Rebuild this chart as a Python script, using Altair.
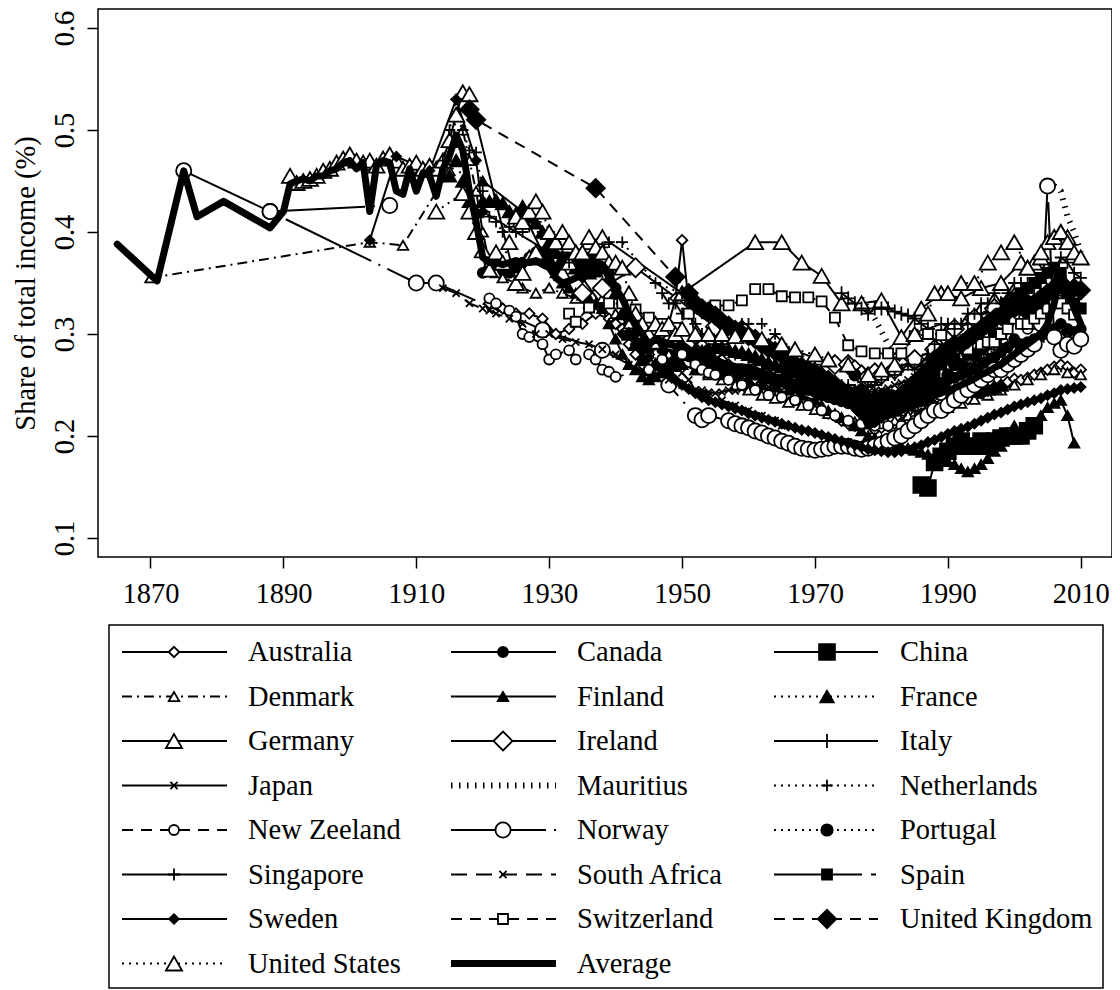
import altair as alt
import pandas as pd

# ---------------- data (year, share) ----------------
australia = [(1921,0.33),(1923,0.325),(1925,0.32),(1927,0.32),(1929,0.315),(1931,0.30),(1933,0.305),(1935,0.31),(1937,0.32),
 (1939,0.315),(1940,0.31),(1941,0.305),(1942,0.29),(1943,0.28),(1944,0.275),(1945,0.28),(1946,0.29),(1947,0.30),(1948,0.31),
 (1949,0.335),(1950,0.392),(1951,0.33),(1952,0.295),(1953,0.29),(1954,0.285),(1955,0.28),(1956,0.275),(1957,0.27),(1958,0.265),
 (1959,0.262),(1960,0.26),(1961,0.255),(1962,0.252),(1963,0.25),(1964,0.248),(1965,0.245),(1966,0.24),(1967,0.238),(1968,0.235),
 (1969,0.232),(1970,0.23),(1971,0.226),(1972,0.222),(1973,0.22),(1974,0.215),(1975,0.212),(1976,0.21),(1977,0.207),(1978,0.205),
 (1979,0.206),(1980,0.208),(1981,0.21),(1982,0.212),(1983,0.213),(1984,0.216),(1985,0.22),(1986,0.222),(1987,0.226),(1988,0.23),
 (1989,0.232),(1990,0.235),(1991,0.232),(1992,0.234),(1993,0.236),(1994,0.24),(1995,0.242),(1996,0.245),(1997,0.248),(1998,0.25),
 (1999,0.253),(2000,0.256),(2001,0.255),(2002,0.257),(2003,0.26),(2004,0.262),(2005,0.265),(2006,0.268),(2007,0.27),(2008,0.268),
 (2009,0.262),(2010,0.265)]
canada = [(1920,0.36),(1921,0.37),(1922,0.37),(1923,0.36),(1924,0.36),(1925,0.365),(1926,0.37),(1927,0.375),(1928,0.38),(1929,0.375),
 (1930,0.37),(1931,0.365),(1932,0.37),(1933,0.375),(1934,0.37),(1935,0.37),(1936,0.375),(1937,0.37),(1938,0.365),(1939,0.36),
 (1940,0.345),(1941,0.33),(1942,0.31),(1943,0.30),(1944,0.29),(1945,0.285),(1946,0.29),(1947,0.285),(1948,0.28),(1949,0.28),
 (1950,0.283),(1951,0.278),(1952,0.272),(1953,0.27),(1954,0.272),(1955,0.27),(1956,0.268),(1957,0.265),(1958,0.265),(1959,0.263),
 (1960,0.262),(1961,0.26),(1962,0.258),(1963,0.256),(1964,0.255),(1965,0.253),(1966,0.25),(1967,0.248),(1968,0.246),(1969,0.245),
 (1970,0.243),(1971,0.24),(1972,0.238),(1973,0.236),(1974,0.234),(1975,0.232),(1976,0.23),(1977,0.228),(1978,0.226),(1979,0.227),
 (1980,0.23),(1981,0.232),(1982,0.235),(1983,0.236),(1984,0.238),(1985,0.24),(1986,0.243),(1987,0.246),(1988,0.25),(1989,0.252),
 (1990,0.255),(1991,0.257),(1992,0.26),(1993,0.262),(1994,0.265),(1995,0.268),(1996,0.272),(1997,0.277),(1998,0.282),(1999,0.287),
 (2000,0.295),(2001,0.29),(2002,0.292),(2003,0.295),(2004,0.298),(2005,0.302),(2006,0.305),(2007,0.31),(2008,0.305),(2009,0.302),
 (2010,0.305)]
china = [(1986,0.152),(1987,0.149),(1988,0.174),(1989,0.18),(1990,0.185),(1991,0.19),(1992,0.195),(1993,0.19),(1994,0.19),
 (1995,0.195),(1996,0.19),(1997,0.195),(1998,0.198),(1999,0.2),(2000,0.2),(2001,0.2),(2002,0.205),(2003,0.21)]
denmark = [(1870,0.355),(1903,0.39),(1908,0.387),(1915,0.46),(1916,0.515),(1917,0.50),(1918,0.47),(1919,0.44),(1920,0.40),
 (1921,0.37),(1922,0.36),(1923,0.355),(1925,0.35),(1926,0.345),(1928,0.34),(1930,0.345),(1932,0.34),(1934,0.335),(1936,0.33),
 (1938,0.335),(1940,0.32),(1942,0.31),(1944,0.30),(1946,0.29),(1948,0.28),(1950,0.27),(1952,0.265),(1954,0.26),(1956,0.255),
 (1958,0.25),(1960,0.245),(1962,0.24),(1964,0.237),(1966,0.233),(1968,0.23),(1970,0.226),(1972,0.222),(1974,0.218),(1976,0.214),
 (1978,0.212),(1980,0.212),(1982,0.215),(1984,0.22),(1986,0.222),(1988,0.225),(1990,0.228),(1992,0.232),(1994,0.236),(1996,0.24),
 (1998,0.245),(2000,0.25),(2002,0.255),(2004,0.26),(2006,0.265),(2008,0.262),(2010,0.26)]
finland = [(1920,0.45),(1926,0.42),(1929,0.38),(1930,0.37),(1931,0.36),(1932,0.35),(1933,0.345),(1934,0.34),(1935,0.338),
 (1936,0.335),(1937,0.33),(1938,0.325),(1939,0.31),(1940,0.295),(1941,0.28),(1942,0.27),(1943,0.265),(1944,0.258),(1945,0.255),
 (1946,0.258),(1947,0.262),(1948,0.265),(1949,0.268),(1950,0.27),(1952,0.265),(1954,0.262),(1956,0.26),(1958,0.258),(1960,0.255),
 (1962,0.25),(1964,0.248),(1966,0.245),(1968,0.24),(1970,0.235),(1971,0.23),(1972,0.225),(1973,0.222),(1974,0.218),(1975,0.215),
 (1976,0.21),(1977,0.205),(1978,0.20),(1979,0.198),(1980,0.196),(1981,0.194),(1982,0.192),(1983,0.19),(1984,0.188),(1985,0.186),
 (1986,0.184),(1987,0.182),(1988,0.178),(1989,0.176),(1990,0.175),(1991,0.172),(1992,0.168),(1993,0.165),(1994,0.168),(1995,0.172),
 (1996,0.178),(1997,0.185),(1998,0.19),(1999,0.198),(2000,0.21),(2001,0.205),(2002,0.208),(2003,0.212),(2004,0.22),(2005,0.228),
 (2006,0.232),(2007,0.235),(2008,0.22),(2009,0.193)]
france = [(1915,0.455),(1916,0.47),(1917,0.45),(1918,0.43),(1919,0.42),(1920,0.43),(1921,0.43),(1922,0.431),(1923,0.428),(1924,0.42),
 (1925,0.418),(1926,0.425),(1927,0.415),(1928,0.409),(1929,0.40),(1930,0.39),(1931,0.38),(1932,0.375),(1933,0.37),(1934,0.365),
 (1935,0.368),(1936,0.36),(1937,0.362),(1938,0.365),(1939,0.355),(1940,0.34),(1941,0.32),(1942,0.30),(1943,0.29),(1944,0.275),
 (1945,0.265),(1946,0.27),(1947,0.275),(1948,0.27),(1949,0.275),(1950,0.28),(1951,0.282),(1952,0.285),(1953,0.283),(1954,0.285),
 (1955,0.287),(1956,0.287),(1957,0.285),(1958,0.283),(1959,0.282),(1960,0.28),(1961,0.278),(1962,0.275),(1963,0.272),(1964,0.27),
 (1965,0.268),(1966,0.265),(1967,0.263),(1968,0.26),(1969,0.258),(1970,0.256),(1971,0.254),(1972,0.252),(1973,0.25),(1974,0.248),
 (1975,0.246),(1976,0.244),(1977,0.242),(1978,0.24),(1979,0.24),(1980,0.24),(1981,0.238),(1982,0.235),(1983,0.232),(1984,0.232),
 (1985,0.235),(1986,0.238),(1987,0.24),(1988,0.243),(1989,0.245),(1990,0.246),(1991,0.245),(1992,0.244),(1993,0.244),(1994,0.245),
 (1995,0.245),(1996,0.246),(1997,0.248),(1998,0.25)]
germany = [(1891,0.455),(1892,0.448),(1893,0.45),(1894,0.452),(1895,0.455),(1896,0.46),(1897,0.462),(1898,0.468),(1899,0.472),
 (1900,0.476),(1901,0.47),(1902,0.468),(1903,0.47),(1904,0.465),(1905,0.472),(1906,0.476),(1907,0.47),(1908,0.462),(1909,0.465),
 (1910,0.468),(1911,0.462),(1912,0.465),(1913,0.462),(1914,0.47),(1915,0.49),(1916,0.515),(1917,0.537),(1918,0.535),(1925,0.35),
 (1926,0.36),(1927,0.375),(1928,0.38),(1932,0.36),(1933,0.37),(1934,0.38),(1936,0.39),(1938,0.395),(1950,0.34),(1961,0.39),
 (1965,0.39),(1968,0.37),(1971,0.357),(1974,0.33),(1977,0.33),(1980,0.333),(1983,0.297),(1986,0.325),(1989,0.34),(1992,0.335),
 (1995,0.345),(1998,0.35),(2001,0.37),(2002,0.365),(2003,0.37),(2004,0.375),(2005,0.39),(2006,0.395),(2007,0.40),(2008,0.395)]
ireland = [(1935,0.34),(1938,0.345),(1943,0.365),(1955,0.307),(1959,0.304),(1964,0.29),(1973,0.27),(1975,0.27),(1976,0.265),
 (1977,0.26),(1978,0.258),(1979,0.262),(1980,0.26),(1982,0.265),(1985,0.275),(1988,0.285),(1990,0.295),(1991,0.305),(1994,0.315),
 (1997,0.325),(2000,0.335),(2009,0.292)]
italy = [(1974,0.34),(1975,0.335),(1976,0.33),(1977,0.325),(1978,0.32),(1979,0.325),(1980,0.325),(1981,0.325),(1982,0.322),
 (1983,0.32),(1984,0.318),(1985,0.315),(1986,0.31),(1987,0.305),(1989,0.31),(1991,0.305),(1993,0.31),(1995,0.32),(1998,0.33),
 (2000,0.335),(2002,0.33),(2004,0.335),(2006,0.34),(2008,0.335),(2009,0.33)]
japan = [(1947,0.28),(1948,0.275),(1949,0.27),(1950,0.262),(1951,0.255),(1952,0.245),(1953,0.245),(1954,0.243),(1955,0.242),
 (1956,0.243),(1957,0.245),(1958,0.244),(1959,0.246),(1960,0.248),(1961,0.25),(1962,0.25),(1963,0.248),(1964,0.247),(1965,0.245),
 (1966,0.244),(1967,0.245),(1968,0.246),(1969,0.248),(1970,0.25),(1971,0.248),(1972,0.25),(1973,0.252),(1974,0.248),(1975,0.245),
 (1976,0.244),(1977,0.243),(1978,0.243),(1979,0.244),(1980,0.245),(1981,0.247),(1982,0.25),(1983,0.252),(1984,0.255),(1985,0.258),
 (1986,0.262),(1987,0.266),(1988,0.27),(1989,0.272),(1990,0.275),(1991,0.272),(1992,0.27),(1993,0.27),(1994,0.272),(1995,0.275),
 (1996,0.278),(1997,0.28),(1998,0.282),(1999,0.285),(2000,0.288),(2001,0.29),(2002,0.29),(2003,0.292),(2004,0.295),(2005,0.298),
 (2006,0.30),(2007,0.302),(2008,0.30),(2009,0.298),(2010,0.30)]
mauritius_a = [(1977,0.335),(1979,0.315),(1981,0.29),(1983,0.275),(1985,0.265)]
mauritius_b = [(2006,0.445),(2007,0.44),(2008,0.415),(2009,0.40),(2010,0.38)]
netherlands = [(1914,0.47),(1915,0.50),(1916,0.53),(1917,0.50),(1918,0.48),(1919,0.478),(1920,0.44),(1921,0.415),(1922,0.41),
 (1923,0.40),(1924,0.405),(1925,0.40),(1926,0.40),(1927,0.405),(1928,0.41),(1929,0.40),(1930,0.40),(1931,0.39),(1932,0.38),
 (1933,0.37),(1934,0.36),(1935,0.36),(1936,0.37),(1937,0.38),(1938,0.385),(1939,0.39),(1941,0.39),(1946,0.35),(1950,0.34),
 (1952,0.33),(1953,0.32),(1954,0.32),(1955,0.315),(1956,0.31),(1957,0.31),(1959,0.31),(1960,0.31),(1962,0.31),(1964,0.30),
 (1965,0.29),(1967,0.282),(1970,0.27),(1973,0.25),(1975,0.235),(1977,0.225),(1979,0.22),(1981,0.22),(1983,0.22),(1985,0.225),
 (1987,0.23),(1989,0.24),(1990,0.26),(1991,0.27),(1992,0.27),(1993,0.27),(1994,0.275),(1995,0.28),(1996,0.28),(1997,0.285),
 (1998,0.29),(1999,0.29)]
new_zeeland = [(1921,0.335),(1922,0.33),(1924,0.323),(1925,0.317),(1926,0.30),(1927,0.297),(1929,0.29),(1930,0.275),(1931,0.28),
 (1933,0.284),(1934,0.275),(1936,0.28),(1937,0.275),(1938,0.265),(1939,0.263),(1940,0.258),(1945,0.265),(1947,0.275),(1950,0.28),
 (1952,0.27),(1953,0.265),(1954,0.262),(1955,0.26),(1957,0.255),(1959,0.25),(1961,0.245),(1963,0.24),(1965,0.238),(1967,0.235),
 (1969,0.23),(1971,0.225),(1973,0.22),(1975,0.215),(1977,0.212),(1979,0.21),(1981,0.21),(1983,0.21),(1985,0.215),(1987,0.22),
 (1989,0.24),(1990,0.26),(1991,0.27),(1992,0.28),(1993,0.285),(1994,0.29),(1995,0.295),(1996,0.30),(1997,0.305),(1998,0.31),
 (1999,0.315),(2000,0.32),(2001,0.31),(2002,0.305),(2003,0.31),(2004,0.315),(2005,0.32)]
norway = [(1875,0.46),(1888,0.42),(1910,0.35),(1913,0.35),(1929,0.304),(1938,0.284),(1948,0.25),
 (1952,0.22),(1953,0.216),(1954,0.22),(1957,0.215),(1958,0.212),(1959,0.21),(1960,0.208),(1961,0.205),(1962,0.203),(1963,0.20),
 (1964,0.198),(1965,0.195),(1966,0.193),(1967,0.19),(1968,0.188),(1969,0.187),(1970,0.186),(1971,0.187),(1972,0.188),(1973,0.19),
 (1974,0.19),(1975,0.19),(1976,0.188),(1977,0.187),(1978,0.188),(1979,0.19),(1980,0.192),(1981,0.195),(1982,0.198),(1983,0.20),
 (1984,0.205),(1985,0.21),(1986,0.215),(1987,0.22),(1988,0.225),(1989,0.225),(1990,0.23),(1991,0.235),(1992,0.24),(1993,0.245),
 (1994,0.25),(1995,0.255),(1996,0.26),(1997,0.265),(1998,0.265),(1999,0.27),(2000,0.275),(2001,0.28),(2002,0.285),(2003,0.29),
 (2004,0.31),(2005,0.445),(2006,0.297),(2007,0.284),(2008,0.29),(2009,0.288),(2010,0.295)]
norway_b = [(1888,0.42),(1906,0.426)]
portugal = [(1976,0.26),(1977,0.245),(1978,0.235),(1979,0.23),(1980,0.23),(1981,0.225),(1982,0.23),(1985,0.24),(1989,0.25),
 (1990,0.26),(1991,0.27),(1992,0.27),(1993,0.28),(1994,0.28),(1995,0.285),(1996,0.29),(1997,0.30),(1998,0.30),(1999,0.31),
 (2000,0.32),(2001,0.33),(2002,0.32),(2003,0.32),(2004,0.325),(2005,0.33)]
singapore = [(1947,0.34),(1948,0.33),(1949,0.33),(1950,0.32),(1951,0.32),(1952,0.31),(1953,0.30),(1954,0.30),(1955,0.29),
 (1956,0.29),(1957,0.285),(1958,0.28),(1959,0.28),(1960,0.275),(1961,0.27),(1962,0.27),(1963,0.265),(1964,0.26),(1965,0.26),
 (1966,0.255),(1967,0.25),(1968,0.25),(1969,0.25),(1970,0.25),(1971,0.25),(1972,0.255),(1973,0.25),(1974,0.25),(1975,0.25),
 (1976,0.245),(1977,0.245),(1978,0.248),(1979,0.25),(1980,0.255),(1981,0.26),(1982,0.26),(1983,0.265),(1984,0.27),(1985,0.265),
 (1986,0.27),(1987,0.28),(1988,0.29),(1989,0.30),(1990,0.31),(1991,0.31),(1992,0.31),(1993,0.32),(1994,0.32),(1995,0.33),
 (1996,0.33),(1997,0.34),(1998,0.33),(1999,0.34),(2000,0.35),(2001,0.35),(2002,0.35),(2003,0.345),(2004,0.35),(2005,0.36),
 (2006,0.36),(2007,0.375),(2008,0.37),(2009,0.36),(2010,0.355)]
south_africa = [(1914,0.345),(1916,0.34),(1918,0.33),(1920,0.325),(1921,0.323),(1922,0.32),(1924,0.315),(1926,0.31),(1928,0.30),
 (1930,0.30),(1932,0.295),(1934,0.292),(1936,0.29),(1938,0.285),(1940,0.28),(1942,0.27),(1944,0.265),(1946,0.26),(1948,0.255),
 (1950,0.25),(1952,0.245),(1954,0.24),(1956,0.235),(1958,0.23),(1960,0.225),(1962,0.22),(1964,0.215),(1965,0.21)]
spain = [(1981,0.24),(1982,0.235),(1983,0.23),(1984,0.235),(1985,0.24),(1986,0.245),(1987,0.25),(1988,0.26),(1989,0.27),
 (1990,0.275),(1991,0.28),(1992,0.29),(1993,0.295),(1994,0.30),(1995,0.305),(1996,0.31),(1997,0.315),(1998,0.32),(1999,0.33),
 (2000,0.335),(2001,0.34),(2002,0.345),(2003,0.35),(2004,0.355),(2005,0.36),(2006,0.365),(2007,0.36),(2008,0.34),(2009,0.33),
 (2010,0.325)]
sweden = [(1903,0.392),(1907,0.474),(1912,0.46),(1916,0.53),(1919,0.47),(1920,0.42),(1930,0.38),(1935,0.355),(1941,0.30),
 (1943,0.29),(1944,0.283),(1945,0.277),(1946,0.27),(1947,0.265),(1948,0.26),(1949,0.255),(1950,0.25),(1951,0.246),(1952,0.242),
 (1953,0.238),(1954,0.235),(1955,0.233),(1956,0.231),(1957,0.229),(1958,0.227),(1959,0.225),(1960,0.222),(1961,0.22),(1962,0.218),
 (1963,0.216),(1964,0.214),(1965,0.212),(1966,0.21),(1967,0.208),(1968,0.206),(1969,0.205),(1970,0.203),(1971,0.201),(1972,0.199),
 (1973,0.197),(1974,0.195),(1975,0.193),(1976,0.191),(1977,0.189),(1978,0.187),(1979,0.186),(1980,0.185),(1981,0.184),(1982,0.184),
 (1983,0.185),(1984,0.187),(1985,0.189),(1986,0.191),(1987,0.194),(1988,0.196),(1989,0.199),(1990,0.202),(1991,0.205),(1992,0.207),
 (1993,0.209),(1994,0.212),(1995,0.215),(1996,0.218),(1997,0.221),(1998,0.223),(1999,0.226),(2000,0.229),(2001,0.231),(2002,0.233),
 (2003,0.235),(2004,0.237),(2005,0.24),(2006,0.242),(2007,0.245),(2008,0.246),(2009,0.247),(2010,0.248)]
switzerland = [(1933,0.32),(1934,0.312),(1936,0.326),(1939,0.33),(1941,0.33),(1943,0.324),(1945,0.316),(1947,0.31),(1949,0.306),
 (1951,0.32),(1953,0.325),(1955,0.328),(1957,0.328),(1959,0.333),(1961,0.344),(1963,0.344),(1965,0.337),(1967,0.336),(1969,0.336),
 (1971,0.332),(1973,0.316),(1975,0.289),(1977,0.283),(1979,0.281),(1981,0.281),(1983,0.281),(1985,0.298),(1987,0.30),(1989,0.299),
 (1991,0.286),(1993,0.285),(1995,0.29),(1996,0.292),(1997,0.292),(1998,0.30),(1999,0.305),(2000,0.315),(2001,0.31),(2002,0.31),
 (2003,0.315),(2004,0.32),(2005,0.325),(2006,0.33),(2007,0.33),(2008,0.325),(2009,0.319)]
united_kingdom = [(1918,0.52),(1919,0.51),(1937,0.443),(1949,0.356),(1951,0.34),(1952,0.33),(1953,0.325),(1954,0.322),(1955,0.318),
 (1956,0.312),(1957,0.308),(1958,0.304),(1959,0.30),(1960,0.298),(1961,0.295),(1962,0.29),(1963,0.286),(1964,0.283),(1965,0.28),
 (1966,0.275),(1967,0.27),(1968,0.268),(1969,0.265),(1970,0.262),(1971,0.258),(1972,0.255),(1973,0.25),(1974,0.245),(1975,0.24),
 (1976,0.232),(1977,0.225),(1978,0.22),(1979,0.218),(1980,0.222),(1981,0.228),(1982,0.235),(1983,0.24),(1984,0.245),(1985,0.25),
 (1986,0.258),(1987,0.265),(1988,0.275),(1989,0.28),(1990,0.285),(1991,0.29),(1992,0.29),(1993,0.295),(1994,0.30),(1995,0.305),
 (1996,0.31),(1997,0.315),(1998,0.318),(1999,0.322),(2000,0.325),(2001,0.328),(2002,0.33),(2003,0.33),(2004,0.335),(2005,0.34),
 (2006,0.345),(2007,0.35),(2008,0.343),(2009,0.345),(2010,0.343)]
united_states = [(1913,0.42),(1917,0.438),(1918,0.42),(1919,0.40),(1920,0.382),(1921,0.363),(1922,0.38),(1923,0.37),(1924,0.39),
 (1925,0.415),(1926,0.41),(1927,0.42),(1928,0.43),(1929,0.42),(1930,0.40),(1931,0.39),(1932,0.40),(1933,0.39),(1934,0.38),
 (1935,0.38),(1936,0.395),(1937,0.385),(1938,0.38),(1939,0.37),(1940,0.37),(1941,0.365),(1942,0.34),(1943,0.32),(1944,0.31),
 (1945,0.30),(1946,0.31),(1947,0.305),(1948,0.31),(1949,0.30),(1950,0.305),(1952,0.30),(1954,0.30),(1956,0.30),(1958,0.298),
 (1960,0.30),(1962,0.295),(1965,0.29),(1967,0.285),(1970,0.28),(1972,0.275),(1975,0.27),(1978,0.26),(1980,0.265),(1982,0.27),
 (1985,0.30),(1987,0.32),(1988,0.34),(1990,0.34),(1992,0.35),(1994,0.35),(1996,0.37),(1998,0.38),(2000,0.39),(2002,0.365),
 (2004,0.38),(2006,0.395),(2007,0.40),(2008,0.39),(2009,0.38),(2010,0.375)]
average = [(1865,0.388),(1871,0.352),(1875,0.46),(1877,0.415),(1881,0.43),(1888,0.404),(1890,0.42),(1891,0.447),(1892,0.45),
 (1893,0.452),(1894,0.45),(1895,0.455),(1896,0.455),(1897,0.46),(1898,0.462),(1899,0.468),(1900,0.47),(1901,0.462),(1902,0.468),
 (1903,0.42),(1904,0.465),(1905,0.47),(1906,0.468),(1907,0.44),(1908,0.437),(1909,0.462),(1910,0.44),(1911,0.458),(1912,0.455),
 (1913,0.435),(1914,0.462),(1915,0.475),(1916,0.495),(1917,0.48),(1918,0.44),(1919,0.41),(1920,0.375),(1921,0.37),(1922,0.37),
 (1923,0.368),(1924,0.37),(1925,0.372),(1926,0.37),(1927,0.37),(1928,0.372),(1929,0.368),(1930,0.365),(1931,0.355),(1932,0.35),
 (1933,0.352),(1934,0.355),(1935,0.358),(1936,0.365),(1937,0.37),(1938,0.368),(1939,0.36),(1940,0.345),(1941,0.335),(1942,0.32),
 (1943,0.31),(1944,0.30),(1945,0.29),(1946,0.295),(1947,0.293),(1948,0.29),(1949,0.288),(1950,0.29),(1951,0.285),(1952,0.28),
 (1953,0.278),(1954,0.275),(1955,0.275),(1956,0.272),(1957,0.27),(1958,0.268),(1959,0.268),(1960,0.267),(1961,0.265),(1962,0.262),
 (1963,0.26),(1964,0.258),(1965,0.257),(1966,0.255),(1967,0.252),(1968,0.25),(1969,0.25),(1970,0.248),(1971,0.245),(1972,0.243),
 (1973,0.24),(1974,0.238),(1975,0.236),(1976,0.232),(1977,0.225),(1978,0.21),(1979,0.212),(1980,0.218),(1981,0.22),(1982,0.222),
 (1983,0.225),(1984,0.228),(1985,0.23),(1986,0.232),(1987,0.235),(1988,0.24),(1989,0.242),(1990,0.245),(1991,0.247),(1992,0.25),
 (1993,0.253),(1994,0.256),(1995,0.26),(1996,0.263),(1997,0.267),(1998,0.27),(1999,0.275),(2000,0.28),(2001,0.285),(2002,0.29),
 (2003,0.295),(2004,0.30),(2005,0.31),(2006,0.33),(2007,0.36),(2008,0.345),(2009,0.325),(2010,0.31)]

x_ticks = [1870, 1890, 1910, 1930, 1950, 1970, 1990, 2010]
y_ticks = [0.1, 0.2, 0.3, 0.4, 0.5, 0.6]

countries = ["Australia", "Canada", "China", "Denmark", "Finland", "France", "Germany", "Ireland", "Italy",
             "Japan", "Mauritius", "Netherlands", "New Zeeland", "Norway", "Portugal", "Singapore",
             "South Africa", "Spain", "Sweden", "Switzerland", "United Kingdom", "United States"]
segments = [("Australia", "Australia", australia), ("Canada", "Canada", canada), ("China", "China", china),
            ("Denmark", "Denmark", denmark), ("Finland", "Finland", finland), ("France", "France", france),
            ("Germany", "Germany", germany), ("Ireland", "Ireland", ireland), ("Italy", "Italy", italy),
            ("Japan", "Japan", japan), ("Mauritius", "Mauritius a", mauritius_a), ("Mauritius", "Mauritius b", mauritius_b),
            ("Netherlands", "Netherlands", netherlands), ("New Zeeland", "New Zeeland", new_zeeland),
            ("Norway", "Norway", norway), ("Norway", "Norway b", norway_b),
            ("Portugal", "Portugal", portugal), ("Singapore", "Singapore", singapore),
            ("South Africa", "South Africa", south_africa), ("Spain", "Spain", spain), ("Sweden", "Sweden", sweden),
            ("Switzerland", "Switzerland", switzerland), ("United Kingdom", "United Kingdom", united_kingdom),
            ("United States", "United States", united_states)]

# ---------------- styles ----------------
PLUS = "M-1,0L1,0M0,-1L0,1"
CROSS = "M-0.75,-0.75L0.75,0.75M-0.75,0.75L0.75,-0.75"
style = {  # dash, line width, shape, size, fill
    "Australia": ([1, 0], 2, "diamond", 110, "white"),
    "Canada": ([1, 0], 2, "circle", 100, "black"),
    "China": ([1, 0], 2, "square", 250, "black"),
    "Denmark": ([10, 5, 2, 5], 2, "triangle-up", 110, "white"),
    "Finland": ([1, 0], 2, "triangle-up", 110, "black"),
    "France": ([2, 5], 2, "triangle-up", 180, "black"),
    "Germany": ([1, 0], 2, "triangle-up", 260, "white"),
    "Ireland": ([1, 0], 2, "diamond", 360, "white"),
    "Italy": ([1, 0], 2, PLUS, 200, "white"),
    "Japan": ([1, 0], 2, CROSS, 90, "white"),
    "Mauritius": ([1.5, 6.5], 6, "circle", 0, "white"),
    "Netherlands": ([2, 5], 2, PLUS, 130, "white"),
    "New Zeeland": ([11, 8], 2, "circle", 100, "white"),
    "Norway": ([95, 8, 2, 8], 2, "circle", 230, "white"),
    "Portugal": ([2, 5], 2, "circle", 130, "black"),
    "Singapore": ([1, 0], 2, PLUS, 150, "white"),
    "South Africa": ([16, 9], 2, CROSS, 90, "white"),
    "Spain": ([88, 9, 5, 9], 2, "square", 100, "black"),
    "Sweden": ([1, 0], 2, "diamond", 90, "black"),
    "Switzerland": ([11, 8], 2, "square", 100, "white"),
    "United Kingdom": ([11, 8], 2, "diamond", 340, "black"),
    "United States": ([2, 5], 2, "triangle-up", 260, "white"),
    "Average": ([1, 0], 7, "circle", 0, "white"),
}
names = countries + ["Average"]
dash_scale = alt.Scale(domain=names, range=[style[n][0] for n in names])

rows = []
for name, seg, pts in segments:
    for yr, v in pts:
        rows.append({"name": name, "seg": seg, "year": yr, "share": v, "lw": style[name][1],
                     "shp": style[name][2], "sz": style[name][3], "fc": style[name][4]})
df = pd.DataFrame(rows)
df_pts = df[df["name"] != "Mauritius"]
df_avg = pd.DataFrame([{"name": "Average", "year": yr, "share": v} for yr, v in average])

FONT = "Liberation Serif"
FS = 28.5
W, H = 1014, 548

X = alt.X("year:Q", scale=alt.Scale(domain=[1862.1, 2014.7], nice=False, zero=False),
          axis=alt.Axis(values=x_ticks, format="d", title=None, labelBaseline="alphabetic",
                        labelPadding=34, labelFlush=False, labelOverlap=False))
Y = alt.Y("share:Q", scale=alt.Scale(domain=[0.0814, 0.6186], nice=False, zero=False),
          axis=alt.Axis(values=y_ticks, format=".1f", title="Share of total income (%)",
                        labelAngle=270, labelAlign="center", labelBaseline="alphabetic",
                        labelPadding=14, labelFlush=False, labelOverlap=False,
                        titleAngle=270, titleX=-73, titleY=H / 2, titleAlign="center",
                        titleBaseline="middle"))

lines = alt.Chart(df).mark_line(color="black").encode(
    x=X, y=Y, detail="seg:N",
    strokeDash=alt.StrokeDash("name:N", scale=dash_scale, legend=None),
    strokeWidth=alt.StrokeWidth("lw:Q", scale=None),
)
points = alt.Chart(df_pts).mark_point(filled=True, stroke="black", strokeWidth=1.8, opacity=1).encode(
    x=X, y=Y,
    shape=alt.Shape("shp:N", scale=None),
    size=alt.Size("sz:Q", scale=None),
    fill=alt.Fill("fc:N", scale=None),
)
avg_line = alt.Chart(df_avg).mark_line(color="black", strokeWidth=7, strokeJoin="round", strokeCap="round").encode(
    x=X, y=Y)

main = alt.layer(lines, points, avg_line)

# ---------------- legend (drawn in its own pixel frame under the plot) ----------------
line_x0 = [24, 353, 676]
line_x1 = [129, 458, 780]
mark_x = [76, 405, 729]
text_x = [150, 479, 802]
row_y = [27, 71.5, 116, 160.5, 205, 249.5, 294, 338.5]

leg_rows = []
for i, n in enumerate(names):
    c, r = i % 3, i // 3
    leg_rows.append({"name": n, "x0": line_x0[c], "x1": line_x1[c], "mx": mark_x[c], "tx": text_x[c],
                     "ly": row_y[r], "lw": style[n][1], "shp": style[n][2], "sz": style[n][3], "fc": style[n][4]})
leg = pd.DataFrame(leg_rows)
leg_pts = leg[~leg["name"].isin(["Mauritius", "Average"])]
box = pd.DataFrame([{"x0": 11, "x1": 1005, "y0": 0, "y1": 363}])

LX = alt.Scale(domain=[0, W], range=[0, W])
LY = alt.Scale(domain=[0, 363], range=[616, 979])

leg_lines = alt.Chart(leg).mark_rule(color="black").encode(
    x=alt.X("x0:Q", scale=LX, axis=None), x2="x1:Q",
    y=alt.Y("ly:Q", scale=LY, axis=None),
    strokeDash=alt.StrokeDash("name:N", scale=dash_scale, legend=None),
    strokeWidth=alt.StrokeWidth("lw:Q", scale=None),
)
leg_marks = alt.Chart(leg_pts).mark_point(filled=True, stroke="black", strokeWidth=1.8, opacity=1).encode(
    x=alt.X("mx:Q", scale=LX, axis=None),
    y=alt.Y("ly:Q", scale=LY, axis=None),
    shape=alt.Shape("shp:N", scale=None),
    size=alt.Size("sz:Q", scale=None),
    fill=alt.Fill("fc:N", scale=None),
)
leg_text = alt.Chart(leg).mark_text(align="left", baseline="middle", font=FONT, fontSize=FS, color="black").encode(
    x=alt.X("tx:Q", scale=LX, axis=None),
    y=alt.Y("ly:Q", scale=LY, axis=None),
    text="name:N",
)
leg_box = alt.Chart(box).mark_rect(fillOpacity=0, stroke="black", strokeWidth=1.5).encode(
    x=alt.X("x0:Q", scale=LX, axis=None), x2="x1:Q",
    y=alt.Y("y0:Q", scale=LY, axis=None), y2="y1:Q",
)
legend = alt.layer(leg_box, leg_lines, leg_marks, leg_text)

chart = alt.layer(main, legend).resolve_scale(x="independent", y="independent").properties(
    width=W, height=H,
    autosize=alt.AutoSizeParams(type="none"),
    padding={"left": 90, "top": 1, "right": 0, "bottom": 433},
).configure_view(stroke="black", strokeWidth=1.5).configure_axis(
    labelFont=FONT, labelFontSize=FS, labelColor="black",
    titleFont=FONT, titleFontSize=FS, titleFontWeight="normal", titleColor="black",
    tickColor="black", tickWidth=1.5, tickSize=11, domain=False, grid=False,
)

chart.save("out.html", embed_options={"renderer": "svg", "actions": False})
